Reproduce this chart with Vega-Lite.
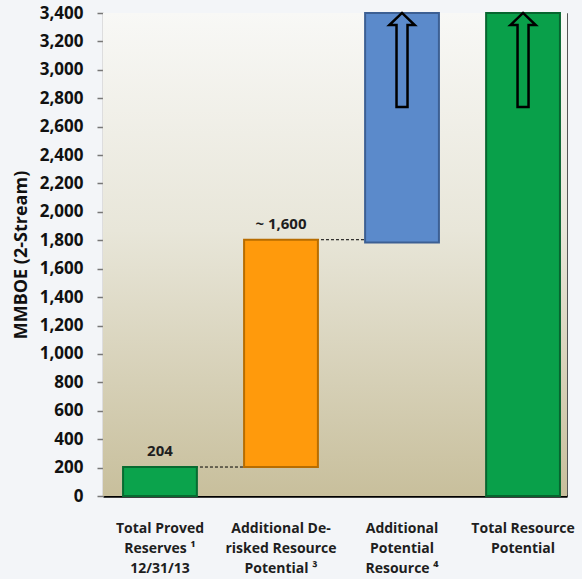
{
  "$schema": "https://vega.github.io/schema/vega-lite/v6.json",
  "autosize": {"type": "none"},
  "padding": {"left": 103, "top": 13, "right": 15, "bottom": 83},
  "width": 464,
  "height": 483,
  "background": "#f3f5f8",
  "config": {
    "view": {"stroke": "#555555", "strokeWidth": 1},
    "font": "Open Sans"
  },
  "datasets": {
    "bars": [
      {"cat": "Total Proved|Reserves ¹|12/31/13", "kind": "proved", "lo": 0, "hi": 204},
      {"cat": "Additional De-|risked Resource|Potential ³", "kind": "derisked", "lo": 204, "hi": 1804},
      {"cat": "Additional|Potential|Resource ⁴", "kind": "potential", "lo": 1785, "hi": 3400},
      {"cat": "Total Resource|Potential", "kind": "total", "lo": 0, "hi": 3400}
    ],
    "labels": [
      {"cat": "Total Proved|Reserves ¹|12/31/13", "lo": 204, "label": "204"},
      {"cat": "Additional De-|risked Resource|Potential ³", "lo": 1804, "label": "~ 1,600"}
    ],
    "links": [
      {"from": "Total Proved|Reserves ¹|12/31/13", "to": "Additional De-|risked Resource|Potential ³", "lo": 204},
      {"from": "Additional De-|risked Resource|Potential ³", "to": "Additional|Potential|Resource ⁴", "lo": 1804}
    ],
    "arrows": [
      {"cat": "Additional|Potential|Resource ⁴", "lo": 3070},
      {"cat": "Total Resource|Potential", "lo": 3070}
    ]
  },
  "encoding": {
    "x": {
      "field": "cat",
      "type": "nominal",
      "sort": null,
      "scale": {
        "domain": [
          "Total Proved|Reserves ¹|12/31/13",
          "Additional De-|risked Resource|Potential ³",
          "Additional|Potential|Resource ⁴",
          "Total Resource|Potential"
        ],
        "paddingInner": 0.39,
        "paddingOuter": 0.112,
        "align": 0.74
      },
      "axis": {
        "title": null,
        "labelAngle": 0,
        "labelExpr": "split(datum.label, '|')",
        "labelFont": "Open Sans",
        "labelFontWeight": "bold",
        "labelFontSize": 14,
        "labelLineHeight": 20,
        "labelColor": "#1e1e1e",
        "labelPadding": 25,
        "labelLimit": 200,
        "ticks": false,
        "domainColor": "#000000",
        "domainWidth": 2.5
      }
    },
    "y": {
      "field": "lo",
      "type": "quantitative",
      "scale": {"domain": [0, 3400], "nice": false},
      "axis": {
        "title": "MMBOE (2-Stream)",
        "titleFont": "Open Sans",
        "titleFontWeight": "bold",
        "titleFontSize": 18,
        "titleColor": "#111111",
        "titlePadding": 9,
        "values": [0, 200, 400, 600, 800, 1000, 1200, 1400, 1600, 1800, 2000, 2200, 2400, 2600, 2800, 3000, 3200, 3400],
        "format": ",d",
        "labelOverlap": false,
        "labelFont": "Open Sans",
        "labelFontWeight": "bold",
        "labelFontSize": 17,
        "labelColor": "#111111",
        "labelPadding": 14,
        "tickColor": "#777777",
        "tickSize": 6,
        "tickWidth": 1.5,
        "domainColor": "#9a9890",
        "domainWidth": 1.5,
        "grid": false
      }
    }
  },
  "layer": [
    {
      "data": {"values": [{"lo": 0, "hi": 3400}]},
      "mark": {
        "type": "rect",
        "fill": {
          "gradient": "linear",
          "x1": 0, "y1": 0, "x2": 0, "y2": 1,
          "stops": [
            {"offset": 0, "color": "#f8f8f6"},
            {"offset": 0.45, "color": "#e8e6d9"},
            {"offset": 1, "color": "#c8bf9c"}
          ]
        }
      },
      "encoding": {
        "x": null,
        "y2": {"field": "hi"}
      }
    },
    {
      "data": {"name": "links"},
      "mark": {"type": "rule", "color": "#000000", "strokeWidth": 1, "strokeDash": [3, 2]},
      "encoding": {
        "x": {"field": "from", "type": "nominal"},
        "x2": {"field": "to"}
      }
    },
    {
      "data": {"name": "bars"},
      "mark": {"type": "bar", "strokeWidth": 2},
      "encoding": {
        "y2": {"field": "hi"},
        "fill": {
          "field": "kind",
          "type": "nominal",
          "scale": {
            "domain": ["proved", "derisked", "potential", "total"],
            "range": ["#0ba34c", "#ff9a0c", "#5b8acb", "#09a04a"]
          },
          "legend": null
        },
        "stroke": {
          "field": "kind",
          "type": "nominal",
          "scale": {
            "domain": ["proved", "derisked", "potential", "total"],
            "range": ["#076b31", "#b86d00", "#3c5f93", "#06652f"]
          },
          "legend": null
        }
      }
    },
    {
      "data": {"name": "labels"},
      "mark": {"type": "text", "font": "Open Sans", "fontWeight": "bold", "fontSize": 15, "color": "#1e1e1e", "baseline": "alphabetic", "dy": -11},
      "encoding": {
        "text": {"field": "label"}
      }
    },
    {
      "data": {"name": "arrows"},
      "mark": {
        "type": "point",
        "shape": "M-0.117,1L0.117,1L0.117,-0.74L0.27,-0.74L0,-1L-0.27,-0.74L-0.117,-0.74Z",
        "filled": false,
        "color": "#000000",
        "opacity": 1,
        "strokeWidth": 2.5,
        "size": 8836
      }
    }
  ]
}
